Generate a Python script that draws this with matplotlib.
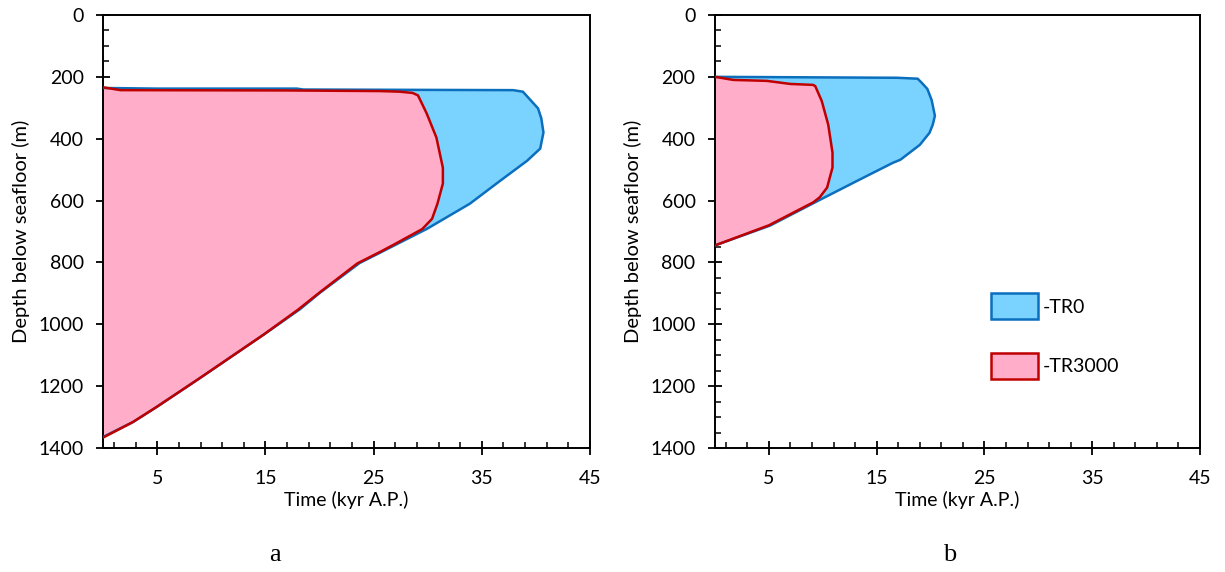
"""Hydrate stability zone thickness through time, TR0 vs TR3000."""

import matplotlib

matplotlib.use("Agg")
import matplotlib.pyplot as plt
from matplotlib.patches import Patch
from matplotlib.ticker import MultipleLocator

plt.rcParams["font.family"] = ["Lato", "DejaVu Sans"]

# panel a outlines (time kyr, depth m)
a_tr0_time = [0, 5, 17.9, 18.5, 37.9, 38.8, 40.2, 40.5, 40.7, 40.4, 39.2, 36.7,
              33.9, 29.9, 25.9, 23.7, 20.0, 18.2, 14.9, 8.9, 5.0, 2.8, 0]
a_tr0_depth = [236, 238, 238, 241, 243, 248, 302, 334, 380, 432, 471, 536,
               610, 692, 763, 802, 899, 951, 1032, 1175, 1266, 1315, 1364]

a_tr3000_time = [0, 1.6, 17, 25.6, 27.4, 28.6, 29.1, 29.9, 30.8, 31.4, 31.4, 30.9,
                 30.4, 29.5, 27.0, 25.6, 23.5, 19.9, 18.0, 14.8, 8.8, 4.9, 2.7, 0]
a_tr3000_depth = [234, 243, 244, 246, 248, 252, 260, 318, 396, 494, 545, 610,
                  659, 692, 740, 766, 803, 900, 953, 1034, 1177, 1268, 1317, 1366]

# panel b outlines
b_tr0_time = [0, 16.9, 18.8, 19.2, 19.7, 20.1, 20.4, 20.2, 19.9, 19.0, 17.2, 16.5,
              13.2, 9.6, 5.1, 0]
b_tr0_depth = [200, 203, 206, 220, 239, 275, 326, 355, 381, 420, 468, 478,
               536, 600, 681, 745]

b_tr3000_time = [0, 1.7, 4.8, 7.0, 9.1, 9.3, 9.9, 10.5, 10.9, 10.9, 10.4, 9.7,
                 9.1, 5.0, 0]
b_tr3000_depth = [200, 210, 213, 223, 226, 230, 278, 354, 445, 493, 558, 590,
                  606, 680, 745]

series_labels = ["-TR0", "-TR3000"]

BLUE_FILL, BLUE_EDGE = "#7ad2ff", "#0b6fbd"
RED_FILL, RED_EDGE = "#ffadc8", "#c00000"


def draw_panel(ax, tr0, tr3000):
    for (t, d), fc, ec in ((tr0, BLUE_FILL, BLUE_EDGE), (tr3000, RED_FILL, RED_EDGE)):
        ax.fill(t, d, facecolor=fc, edgecolor="none", zorder=2)
        ax.plot(t, d, color=ec, linewidth=1.8, zorder=3)

    ax.set_xlim(0, 45)
    ax.set_ylim(1400, 0)
    ax.xaxis.set_major_locator(MultipleLocator(10, offset=5))
    ax.xaxis.set_minor_locator(MultipleLocator(2, offset=1))
    ax.yaxis.set_major_locator(MultipleLocator(200))
    ax.yaxis.set_minor_locator(MultipleLocator(50))
    ax.tick_params(which="major", direction="inout", length=10, width=1.3,
                   labelsize=14, pad=9)
    ax.tick_params(which="minor", direction="in", length=4.5, width=1.1)
    ax.tick_params(axis="x", which="major", pad=11)
    for side in ax.spines.values():
        side.set_linewidth(1.4)
    ax.set_xlabel("Time (kyr A.P.)", fontsize=14, labelpad=3)
    ax.set_ylabel("Depth below seafloor (m)", fontsize=14.5, labelpad=6)


fig = plt.figure(figsize=(12.25, 5.72), dpi=100)
ax_a = fig.add_axes([0.0843, 0.2168, 0.3973, 0.757])
ax_b = fig.add_axes([0.5837, 0.2168, 0.3959, 0.757])

draw_panel(ax_a, (a_tr0_time, a_tr0_depth), (a_tr3000_time, a_tr3000_depth))
draw_panel(ax_b, (b_tr0_time, b_tr0_depth), (b_tr3000_time, b_tr3000_depth))

handles = [
    Patch(facecolor=BLUE_FILL, edgecolor=BLUE_EDGE, linewidth=1.8),
    Patch(facecolor=RED_FILL, edgecolor=RED_EDGE, linewidth=1.8),
]
ax_b.legend(handles, series_labels, loc="upper left", bbox_to_anchor=(0.569, 0.357),
            frameon=False, fontsize=14, handlelength=2.4, handleheight=1.65,
            labelspacing=1.75, handletextpad=0.25, borderpad=0, borderaxespad=0)

fig.text(275 / 1225, 1 - 555 / 572, "a", fontsize=19, family="Liberation Serif",
         ha="center", va="center")
fig.text(950 / 1225, 1 - 555 / 572, "b", fontsize=19, family="Liberation Serif",
         ha="center", va="center")

fig.savefig("out.png", dpi=100)
plt.close(fig)
